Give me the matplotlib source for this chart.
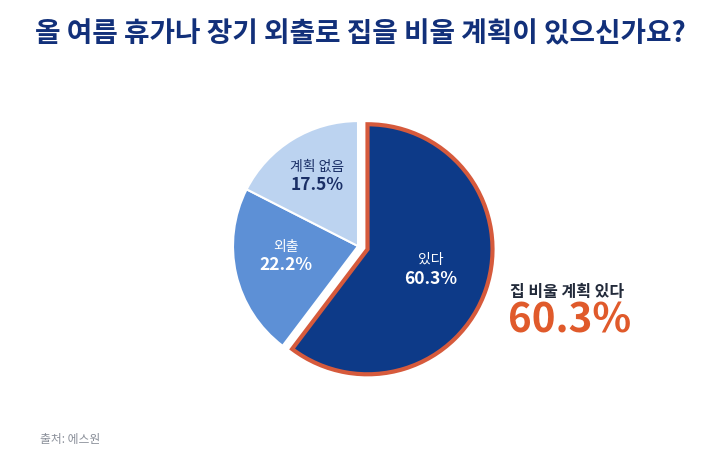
import matplotlib
matplotlib.use('Agg')
import matplotlib.pyplot as plt

plt.rcParams['font.family'] = ['Noto Sans CJK KR', 'DejaVu Sans']

# 데이터
labels = ['있다', '외출', '계획 없음']
values = [60.3, 22.2, 17.5]
colors = ['#0d3a88', '#5d90d6', '#bcd3f0']
text_colors = ['white', 'white', '#1a2f66']

fig = plt.figure(figsize=(7.2, 4.71), dpi=100)
fig.patch.set_facecolor('white')

ax = fig.add_axes([0.2889, 0.159, 0.4167, 0.637])
wedges, _ = ax.pie(values, colors=colors, startangle=90, counterclock=False,
                   explode=[0.08, 0, 0],
                   wedgeprops=dict(edgecolor='white', linewidth=1.5))
wedges[0].set_edgecolor('#d65a3c')
wedges[0].set_linewidth(3)
wedges[0].set_zorder(3)
ax.set_xlim(-1.2, 1.2)
ax.set_ylim(-1.2, 1.2)
ax.set_aspect('equal')
ax.axis('off')

# 조각 안 라벨
label_pos = [(0.58, -0.25), (-0.58, -0.14), (-0.33, 0.5)]
for (x, y), lab, v, c in zip(label_pos, labels, values, text_colors):
    ax.text(x, y + 0.08, lab, ha='center', va='bottom', fontsize=10, color=c)
    ax.text(x, y + 0.06, f'{v}%', ha='center', va='top', fontsize=12.5,
            fontweight='bold', color=c)

fig.text(0.5, 0.927, '올 여름 휴가나 장기 외출로 집을 비울 계획이 있으신가요?',
         ha='center', va='center', fontsize=20, fontweight='bold', color='#12307a')

fig.text(0.708, 0.38, '집 비울 계획 있다', ha='left', va='center', fontsize=11.5,
         fontweight='bold', color='#222a3a')
fig.text(0.705, 0.318, f'{values[0]}%', ha='left', va='center', fontsize=29,
         fontweight='bold', color='#e05a2b')

fig.text(0.055, 0.066, '출처: 에스원', ha='left', va='center', fontsize=8.5,
         color='#8a8f99')

fig.savefig('out.png', dpi=100)
